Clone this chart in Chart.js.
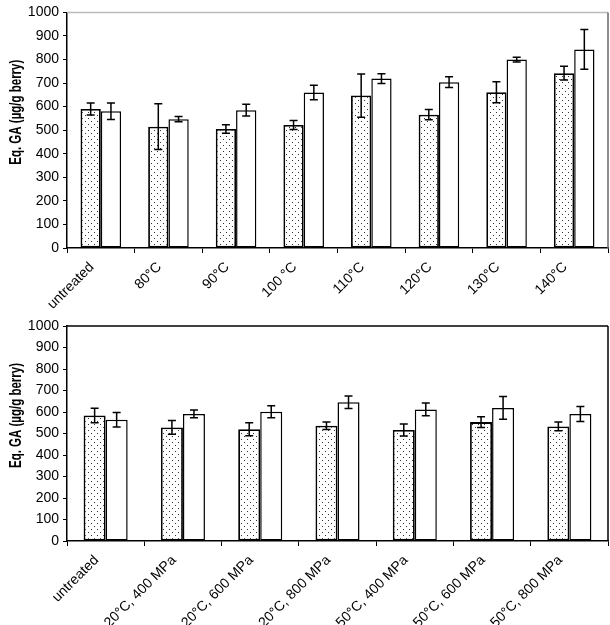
<!DOCTYPE html>
<html>
<head>
<meta charset="utf-8">
<script src="https://cdn.jsdelivr.net/npm/chart.js@4.4.0/dist/chart.umd.min.js"></script>
<style>
  body { margin: 0; background: #fff; }
  .box { position: absolute; left: 0; width: 610px; }
</style>
</head>
<body>
<div class="box" style="top:0;height:315px"><canvas id="topChart" width="610" height="315"></canvas></div>
<div class="box" style="top:300px;height:325px"><canvas id="bottomChart" width="610" height="325"></canvas></div>
<script>
// top panel: thermal treatments
var heatLabels = ['untreated', '80°C', '90°C', '100 °C', '110°C', '120°C', '130°C', '140°C'];
var heatDotted = [590, 515, 505, 522, 647, 566, 661, 742];
var heatDottedErr = [25, 97, 18, 19, 92, 22, 45, 29];
var heatOpen = [580, 547, 585, 660, 719, 704, 800, 843];
var heatOpenErr = [35, 11, 25, 31, 21, 23, 10, 84];

// bottom panel: high pressure treatments
var hpLabels = ['untreated', '20°C, 400 MPa', '20°C, 600 MPa', '20°C, 800 MPa', '50°C, 400 MPa', '50°C, 600 MPa', '50°C, 800 MPa'];
var hpDotted = [584, 528, 520, 536, 516, 553, 533];
var hpDottedErr = [34, 32, 30, 17, 28, 25, 20];
var hpOpen = [564, 591, 601, 645, 612, 619, 591];
var hpOpenErr = [34, 18, 28, 29, 30, 53, 35];

var yTitle = 'Eq. GA (µg/g berry)';

function dotPattern() {
  var c = document.createElement('canvas');
  c.width = 6; c.height = 6;
  var g = c.getContext('2d');
  g.fillStyle = '#fff';
  g.fillRect(0, 0, 6, 6);
  g.fillStyle = '#333';
  g.fillRect(1, 1, 1, 1);
  g.fillRect(4, 4, 1, 1);
  return g.createPattern(c, 'repeat');
}

var errorBars = {
  id: 'errorBars',
  afterDatasetsDraw: function(chart) {
    var ctx = chart.ctx;
    var y = chart.scales.y;
    ctx.save();
    ctx.strokeStyle = '#000';
    ctx.lineWidth = 1.5;
    chart.data.datasets.forEach(function(ds, i) {
      var meta = chart.getDatasetMeta(i);
      meta.data.forEach(function(bar, j) {
        var v = ds.data[j], e = ds.errors[j];
        var hi = y.getPixelForValue(v + e), lo = y.getPixelForValue(v - e);
        ctx.beginPath();
        ctx.moveTo(bar.x, hi); ctx.lineTo(bar.x, lo);
        ctx.moveTo(bar.x - 4, hi); ctx.lineTo(bar.x + 4, hi);
        ctx.moveTo(bar.x - 4, lo); ctx.lineTo(bar.x + 4, lo);
        ctx.stroke();
      });
    });
    ctx.restore();
  }
};

// plot box top/right edges + y title (drawn a bit above centre, stretched like the original)
var frame = {
  id: 'frame',
  afterDraw: function(chart, args, opts) {
    var a = chart.chartArea, ctx = chart.ctx;
    ctx.save();
    ctx.lineWidth = 1.5;
    ctx.strokeStyle = opts.top;
    ctx.beginPath(); ctx.moveTo(a.left, a.top); ctx.lineTo(a.right, a.top); ctx.stroke();
    ctx.strokeStyle = opts.right;
    ctx.beginPath(); ctx.moveTo(a.right, a.top); ctx.lineTo(a.right, a.bottom); ctx.stroke();

    ctx.translate(17, (a.top + a.bottom) / 2 - 18);
    ctx.rotate(-Math.PI / 2);
    ctx.scale(1, 1.4);
    ctx.fillStyle = '#000';
    ctx.font = 'bold 11.5px "Liberation Sans", Arial';
    ctx.textAlign = 'center';
    ctx.textBaseline = 'middle';
    ctx.fillText(yTitle, 0, 0);
    ctx.restore();
  }
};

function makeChart(id, labels, dotted, dottedErr, open, openErr, cfg) {
  return new Chart(document.getElementById(id).getContext('2d'), {
    type: 'bar',
    data: {
      labels: labels,
      datasets: [
        { data: dotted, errors: dottedErr, backgroundColor: dotPattern(), borderColor: '#000', borderWidth: 1.8, borderSkipped: false },
        { data: open, errors: openErr, backgroundColor: '#fff', borderColor: '#000', borderWidth: 1.5, borderSkipped: false }
      ]
    },
    options: {
      responsive: false,
      animation: false,
      layout: { padding: { top: cfg.padTop, right: 2, left: 0, bottom: 0 } },
      datasets: { bar: { categoryPercentage: cfg.cat, barPercentage: 1.0 } },
      plugins: {
        legend: { display: false },
        tooltip: { enabled: false },
        frame: { top: cfg.frameTop, right: cfg.frameRight }
      },
      scales: {
        x: {
          afterCalculateLabelRotation: function(s) { s.labelRotation = 45; },
          afterFit: function(s) { s.height = cfg.xHeight; },
          border: { color: '#000', width: 1.5 },
          grid: { drawOnChartArea: false, drawTicks: true, tickLength: 5, color: '#000', offset: true },
          ticks: { color: '#000', autoSkip: false, minRotation: 45, maxRotation: 45, labelOffset: -9, padding: 6, font: { family: 'Liberation Sans, Arial', size: 14 } }
        },
        y: {
          min: 0, max: 1000,
          afterFit: function(s) { s.width = 67; },
          border: { color: '#000', width: 1.5 },
          grid: { drawOnChartArea: false, drawTicks: true, tickLength: 4, color: '#000' },
          ticks: { stepSize: 100, color: '#000', padding: 4, callback: function(v) { return String(v); }, font: { family: 'Liberation Sans, Arial', size: 14 } },
          title: { display: false }
        }
      }
    },
    plugins: [errorBars, frame]
  });
}

makeChart('topChart', heatLabels, heatDotted, heatDottedErr, heatOpen, heatOpenErr,
  { padTop: 6, xHeight: 67, cat: 0.6, frameTop: '#bbb', frameRight: '#666' });
makeChart('bottomChart', hpLabels, hpDotted, hpDottedErr, hpOpen, hpOpenErr,
  { padTop: 26, xHeight: 84, cat: 0.57, frameTop: '#000', frameRight: '#000' });
</script>
</body>
</html>
